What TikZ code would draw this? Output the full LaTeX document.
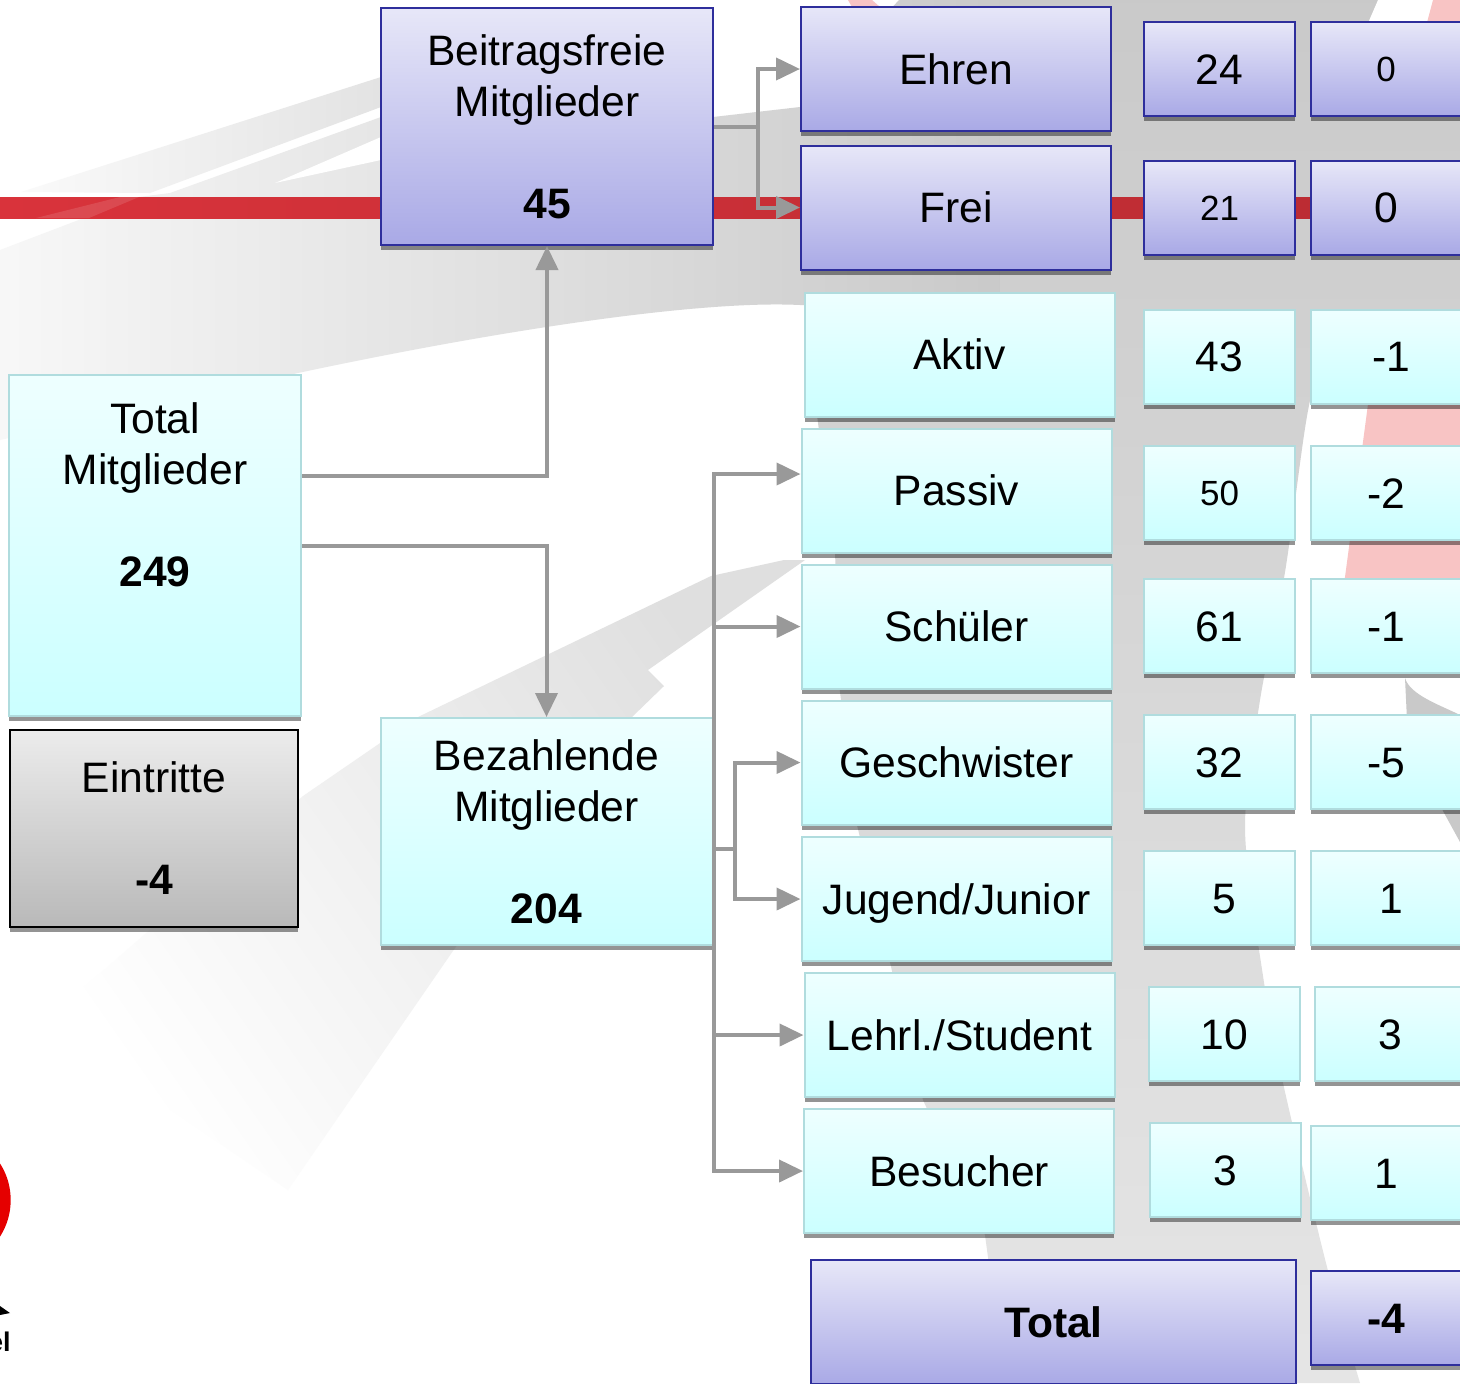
\documentclass[tikz,border=0pt]{standalone}
\usepackage{fontspec}
\setmainfont{Liberation Sans}
\usetikzlibrary{arrows.meta, shadows}
\definecolor{linegrey}{HTML}{999999}
\definecolor{redbar}{HTML}{D9333B}
\definecolor{pinkbg}{HTML}{F8C4C4}
\definecolor{bluetop}{HTML}{E7E7F8}
\definecolor{bluebot}{HTML}{A9A9E6}
\definecolor{blueline}{HTML}{2E2E9C}
\definecolor{cyantop}{HTML}{EEFFFF}
\definecolor{cyanbot}{HTML}{CBFFFF}
\definecolor{cyanline}{HTML}{B0DCDE}
\tikzstyle{block} = [rectangle, inner sep=0pt, align=center, general shadow={shadow yshift=-2.6pt, fill=black, opacity=.42}]
\tikzstyle{cyanbox} = [block, draw=cyanline, line width=1pt, top color=cyantop, bottom color=cyanbot]
\tikzstyle{bluebox} = [block, draw=blueline, line width=1pt, top color=bluetop, bottom color=bluebot]
\tikzstyle{greybox} = [block, draw=black, line width=1.3pt, top color=gray!15!white, bottom color=gray!55!white]
\tikzstyle{namebox} = [minimum width=155pt, minimum height=62pt, text height=15pt, text depth=0pt]
\tikzstyle{numbox} = [minimum width=75.5pt, minimum height=47pt, text height=15pt, text depth=0pt]
\tikzstyle{smallnum} = [font=\fontsize{17.5}{20}\selectfont, text height=12.6pt]
\tikzstyle{conn} = [draw=linegrey, line width=2pt]

\begin{document}
\begin{tikzpicture}[>={Triangle[length=12pt,width=11pt]}, x=.5pt, y=-.5pt, font=\fontsize{21.3}{25.5}\selectfont]
    \useasboundingbox (0,0) rectangle (1460,1383);
    \clip (0,0) rectangle (1460,1383);

    % background
    \fill[white] (0,0) rectangle (1460,1383);
    \fill[pinkbg] (848,0) -- (872,0) -- (880,7) -- (852,7) -- cycle;
    \shade[left color=gray!4!white, right color=gray!22!white] (21,192) -- (381,77) -- (381,107) -- (150,193) -- cycle;
    \shade[left color=gray!6!white, middle color=gray!22!white, right color=gray!42!white] (0,250) -- (139,197) -- (170,193) -- (381,117) -- (713,117) -- (800,107) -- (899,0) -- (1000,0) -- (1000,305) -- (800,305) .. controls (700,300) and (500,330) .. (298,373) -- (0,440) -- cycle;
    \fill[white] (275,183) -- (381,137) -- (381,160) -- cycle;
    \shade[top color=gray!42!white, middle color=gray!40!white, bottom color=gray!20!white] (1000,0) -- (1460,0) -- (1460,315) -- (1330,315) -- plot[smooth] coordinates {(1330,315) (1307,416) (1285,572) (1260,700) (1245,829) (1263,976) (1283,1083) (1327,1267) (1360,1383)} -- (1005,1383) -- (985,1235) -- (923,1100) -- (857,825) -- (840,692) -- (835,552) -- (815,400) -- (810,305) -- (1000,305) -- cycle;
    \fill[white] (1378,0) -- (1365,30) -- (1460,30) -- (1460,0) -- cycle;
    \fill[pinkbg] (1433,0) -- (1425,30) -- (1460,30) -- (1460,0) -- cycle;
    \fill[pinkbg] (1380,314) -- (1345,577) -- (1340,620) -- (1460,620) -- (1460,314) -- cycle;
    \fill[gray!42!white] (1405,678) .. controls (1410,695) and (1440,705) .. (1460,715) -- (1460,842) -- (1443,811) -- (1407,720) -- cycle;
    \shade[left color=white, middle color=gray!4!white, right color=gray!25!white, shading angle=125] (784,560) -- (711,576) -- (418,717) -- (303,796) -- (105,969) -- (42,1022) -- (288,1190) -- (455,948) -- (632,717) -- (664,686) -- (648,670) -- (805,560) -- cycle;
    \shade[left color=redbar, right color=redbar!85!black] (0,197) rectangle (1460,218);
    \fill[white, opacity=.12] (36,218) -- (89,218) -- (139,197) -- (120,197) -- cycle;
    \fill[red!90!black] (-57,1200) circle (67.7);
    \fill[black] (0,1306) -- (10,1313) -- (0,1315) -- cycle;
    \node[anchor=south east, inner sep=0pt, font=\fontsize{13.5}{14}\bfseries\selectfont] (logotext) at (11,1352) {el};

    % left column
    \node[cyanbox, minimum width=146pt, minimum height=170.5pt] (total) at (155,545.5) {Total\\Mitglieder\\~\\\textbf{249}\\~\\~};
    \node[greybox, minimum width=144pt, minimum height=98.5pt] (eintritte) at (154,828.5) {Eintritte\\~\\\textbf{-4}};

    % middle column
    \node[bluebox, minimum width=166pt, minimum height=118.5pt] (beitrag) at (547,126.5) {Beitragsfreie\\Mitglieder\\~\\\textbf{45}};
    \node[cyanbox, minimum width=166pt, minimum height=113.5pt] (bezahl) at (546.5,831.5) {Bezahlende\\Mitglieder\\~\\\textbf{204}};

    % member types
    \node[bluebox, namebox] (ehren) at (956,69) {Ehren};
    \node[bluebox, namebox] (frei) at (956,207.5) {Frei};
    \node[cyanbox, namebox] (aktiv) at (959.5,354.5) {Aktiv};
    \node[cyanbox, namebox] (passiv) at (956.5,490.5) {Passiv};
    \node[cyanbox, namebox] (schueler) at (956.5,626.5) {Schüler};
    \node[cyanbox, namebox] (geschw) at (956.5,762.5) {Geschwister};
    \node[cyanbox, namebox] (jugend) at (956.5,899) {Jugend/Junior};
    \node[cyanbox, namebox] (lehrl) at (959.5,1035) {Lehrl./Student};
    \node[cyanbox, namebox] (besucher) at (959,1171) {Besucher};
    \node[bluebox, minimum width=242.5pt, minimum height=62pt, text height=15pt, text depth=0pt] (summe) at (1053.5,1322) {\textbf{Total}};

    % counts
    \node[bluebox, numbox] (ehrenA) at (1219.5,69) {24};
    \node[bluebox, numbox, smallnum] (ehrenB) at (1386,69) {0};
    \node[bluebox, numbox, smallnum] (freiA) at (1219.5,207.5) {21};
    \node[bluebox, numbox] (freiB) at (1386,207.5) {0};
    \node[cyanbox, numbox] (aktivA) at (1219.5,356.5) {43};
    \node[cyanbox, numbox] (aktivB) at (1386,356.5) {\hspace*{5pt}-1};
    \node[cyanbox, numbox, smallnum] (passivA) at (1219.5,493) {50};
    \node[cyanbox, numbox] (passivB) at (1386,493) {-2};
    \node[cyanbox, numbox] (schuelerA) at (1219.5,626) {61};
    \node[cyanbox, numbox] (schuelerB) at (1386,626) {-1};
    \node[cyanbox, numbox] (geschwA) at (1219.5,762) {32};
    \node[cyanbox, numbox] (geschwB) at (1386,762) {-5};
    \node[cyanbox, numbox] (jugendA) at (1219.5,898) {\hspace*{5pt}5};
    \node[cyanbox, numbox] (jugendB) at (1386,898) {\hspace*{5pt}1};
    \node[cyanbox, numbox] (lehrlA) at (1224,1034) {10};
    \node[cyanbox, numbox] (lehrlB) at (1390,1034) {3};
    \node[cyanbox, numbox] (besucherA) at (1225,1170) {3};
    \node[cyanbox, numbox] (besucherB) at (1386,1173) {1};
    \node[bluebox, numbox] (summeB) at (1386,1318) {\textbf{-4}};

    % connectors
    \draw[conn, ->] ([yshift=34.75pt]total.east) -| (beitrag.south);
    \draw[conn, ->] (total.east) -| (bezahl.north);
    \draw[conn, ->] (beitrag.east) -- ++(44,0) |- (ehren.west);
    \draw[conn, ->] (beitrag.east) -- ++(44,0) |- (frei.west);
    \draw[conn, ->] (bezahl.east) |- ([yshift=8.25pt]passiv.west);
    \draw[conn, ->] (bezahl.east) |- (schueler.west);
    \draw[conn, ->] (bezahl.east) |- (lehrl.west);
    \draw[conn, ->] (bezahl.east) |- (besucher.west);
    \draw[conn, ->] ([yshift=-8.75pt]bezahl.east) -- ++(21,0) |- (geschw.west);
    \draw[conn, ->] ([yshift=-8.75pt]bezahl.east) -- ++(21,0) |- (jugend.west);
\end{tikzpicture}
\end{document}
